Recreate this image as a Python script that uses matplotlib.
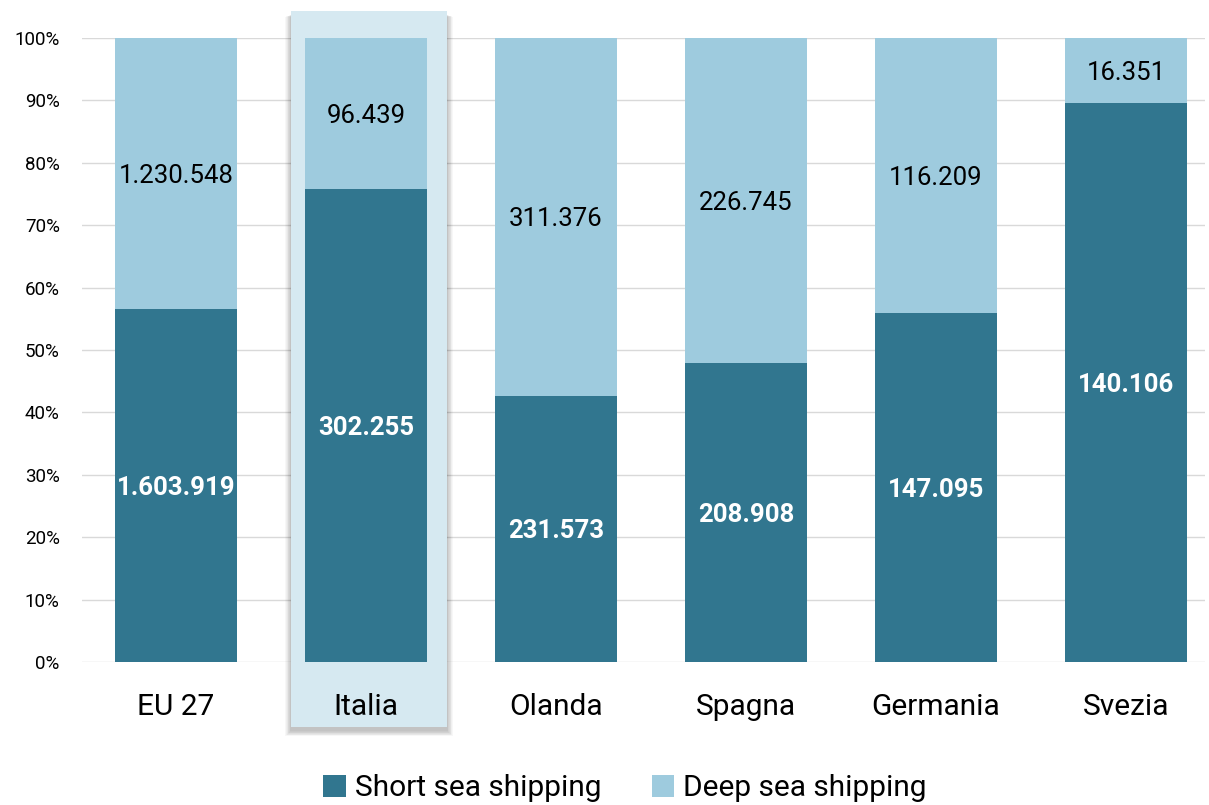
import matplotlib
matplotlib.use("Agg")
import matplotlib.pyplot as plt
from matplotlib.patches import Rectangle
import numpy as np

categories = ["EU 27", "Italia", "Olanda", "Spagna", "Germania", "Svezia"]
short_sea = [1603919, 302255, 231573, 208908, 147095, 140106]
deep_sea = [1230548, 96439, 311376, 226745, 116209, 16351]
yticks = list(range(0, 101, 10))
highlight = "Italia"

def fmt_it(v):
    return f"{v:,}".replace(",", ".")

plt.rcParams['font.family'] = ['Roboto', 'DejaVu Sans']

W, H = 1209, 805
fig = plt.figure(figsize=(W / 100, H / 100), dpi=100)
ax_left, ax_right, ax_top, ax_bot = 82, 1205, 38, 662
ax = fig.add_axes([ax_left / W, 1 - ax_bot / H, (ax_right - ax_left) / W, (ax_bot - ax_top) / H])

dark = "#31768f"
light = "#9ecbde"

x = np.arange(len(categories))
s = np.array(short_sea, float)
d = np.array(deep_sea, float)
tot = s + d
sp = s / tot * 100
dp = d / tot * 100

width = 0.642
ax.bar(x, sp, width, color=dark, zorder=3, label="Short sea shipping")
ax.bar(x, dp, width, bottom=sp, color=light, zorder=3, label="Deep sea shipping")

for i in range(len(categories)):
    ax.text(x[i], sp[i] / 2, fmt_it(short_sea[i]), ha="center", va="center_baseline",
            color="white", fontsize=18.5, fontweight="bold", zorder=4)
    ax.text(x[i], sp[i] + dp[i] / 2, fmt_it(deep_sea[i]), ha="center", va="center_baseline",
            color="black", fontsize=18.5, zorder=4)

# highlight box
hi = categories.index(highlight)
px_per_unit = 190.0
px_per_pct = (ax_bot - ax_top) / 100.0
hx0 = x[hi] + (291 - 366) / px_per_unit
hx1 = x[hi] + (447 - 366) / px_per_unit
hy1 = (ax_bot - 11) / px_per_pct
hy0 = (ax_bot - 727) / px_per_pct
# shadow layers
for k in range(8, 0, -1):
    gx = k * 0.7 / px_per_unit
    gy = k * 0.7 / px_per_pct
    off = 3.5 / px_per_pct
    ax.add_patch(Rectangle((hx0 - gx, hy0 - gy - off), (hx1 - hx0) + 2 * gx,
                           (hy1 - hy0) + 2 * gy * 0.3, facecolor="black",
                           alpha=0.03, edgecolor="none", clip_on=False, zorder=1))
ax.add_patch(Rectangle((hx0, hy0), hx1 - hx0, hy1 - hy0, facecolor="#d6e9f1",
                       edgecolor="none", clip_on=False, zorder=2))

ax.set_xlim((ax_left - 176) / px_per_unit, (ax_right - 176) / px_per_unit)
ax.set_ylim(0, 100)
ax.set_yticks(yticks)
ax.set_yticklabels([f"{t}%" for t in yticks])
ax.set_xticks(x)
ax.set_xticklabels(categories)
ax.tick_params(axis="y", length=0, pad=16, labelsize=13.5, labelcolor="black")
ax.tick_params(axis="x", length=0, pad=22, labelsize=21.5, labelcolor="black")
ax.grid(axis="y", color="#d9d9d9", linewidth=1, zorder=0)
ax.set_axisbelow(True)
ax.xaxis.set_zorder(5)
for sp_ in ax.spines.values():
    sp_.set_visible(False)

fig.legend(loc="center", bbox_to_anchor=(625 / W, 1 - 788 / H), ncol=2, frameon=False,
           fontsize=21.5, handlelength=0.75, handleheight=0.75, handletextpad=0.3,
           columnspacing=1.7)

fig.savefig("out.png", dpi=100)
